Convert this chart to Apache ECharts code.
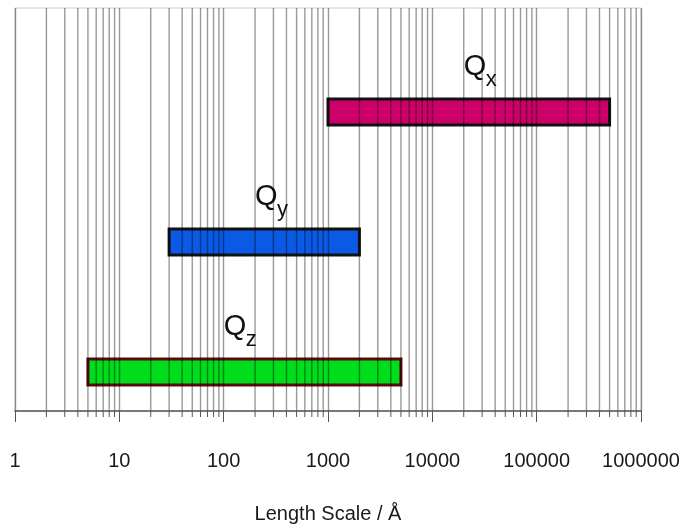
<!DOCTYPE html>
<html>
<head>
<meta charset="utf-8">
<script src="https://cdn.jsdelivr.net/npm/echarts@6/dist/echarts.min.js"></script>
<style>html,body{margin:0;padding:0;background:#fff}#c{width:684px;height:531px}</style>
</head>
<body>
<div id="c"></div>
<script>
// ---- data ----
var names = ['Q', 'Q', 'Q'];
var subs = ['x', 'y', 'z'];
var starts = [1000, 30, 5];
var ends = [500000, 2000, 5000];
var levels = [3, 2, 1];
var labelX = [20000, 200, 100];
var fills = ['#cc0068', '#0a5ae6', '#00dd1c'];
var borders = ['#111111', '#111111', '#5a0a0a'];
var decadeTicks = [1, 10, 100, 1000, 10000, 100000, 1000000];
var minorMultipliers = [2, 3, 4, 5, 6, 7, 8, 9];

var minorVals = [];
for (var i = 0; i < decadeTicks.length - 1; i++) {
  for (var j = 0; j < minorMultipliers.length; j++) minorVals.push(decadeTicks[i] * minorMultipliers[j]);
}

var FONT = '"Liberation Sans", Arial, sans-serif';
var GRIDCOL = 'rgba(0,0,0,0.4)';
var barData = starts.map(function (s, i) { return [s, ends[i], levels[i], labelX[i], i]; });

var chart = echarts.init(document.getElementById('c'), null, { renderer: 'canvas' });
chart.setOption({
  animation: false,
  grid: { left: 15, right: 43, top: 8, bottom: 120, outerBoundsMode: 'none', containLabel: false,
    show: true, borderColor: '#cccccc', borderWidth: 1, backgroundColor: 'transparent' },
  xAxis: {
    type: 'log', logBase: 10, min: 1, max: 1000000, z: 5,
    axisLine: { show: true, lineStyle: { color: '#555', width: 1.5 } },
    axisTick: { show: true, length: 11, lineStyle: { color: '#555' } },
    splitLine: { show: true, lineStyle: { color: GRIDCOL, width: 1.4 } },
    axisLabel: { margin: 40, fontSize: 20, fontFamily: FONT, color: '#1a1a1a', hideOverlap: false,
      formatter: function (v) { return String(Math.round(v)); } },
    name: 'Length Scale / Å', nameLocation: 'middle', nameGap: 93,
    nameTextStyle: { fontSize: 20, fontFamily: FONT, color: '#1a1a1a' }
  },
  yAxis: { type: 'value', min: 0.7, max: 3.8, show: false, splitLine: { show: false } },
  series: [
    {
      type: 'custom', z: 2, clip: false,
      data: barData,
      encode: { x: [0, 1, 3], y: 2 },
      renderItem: function (params, api) {
        var idx = api.value(4);
        var p0 = api.coord([api.value(0), api.value(2)]);
        var p1 = api.coord([api.value(1), api.value(2)]);
        var pl = api.coord([api.value(3), api.value(2)]);
        var h = 26;
        return {
          type: 'group',
          children: [
            { type: 'rect', shape: { x: p0[0], y: p0[1] - h / 2, width: p1[0] - p0[0], height: h },
              style: { fill: fills[idx], stroke: borders[idx], lineWidth: 3 } },
            { type: 'text', x: pl[0], y: p0[1] - 45,
              style: { text: names[idx], font: '29px ' + FONT, fill: '#111', align: 'left', verticalAlign: 'middle' } },
            { type: 'text', x: pl[0] + 22, y: p0[1] - 32,
              style: { text: subs[idx], font: '22px ' + FONT, fill: '#111', align: 'left', verticalAlign: 'middle' } }
          ]
        };
      }
    },
    {
      type: 'custom', z: 4, clip: false, silent: true,
      data: minorVals,
      encode: { x: 0 },
      renderItem: function (params, api) {
        var v = api.value(0);
        var top = api.coord([v, 3.8]);
        var bot = api.coord([v, 0.7]);
        return {
          type: 'group',
          children: [
            { type: 'line', shape: { x1: top[0], y1: top[1], x2: bot[0], y2: bot[1] },
              style: { stroke: GRIDCOL, lineWidth: 1.4 } },
            { type: 'line', shape: { x1: bot[0], y1: bot[1], x2: bot[0], y2: bot[1] + 6 },
              style: { stroke: '#555', lineWidth: 1 } }
          ]
        };
      }
    }
  ]
});
</script>
</body>
</html>
